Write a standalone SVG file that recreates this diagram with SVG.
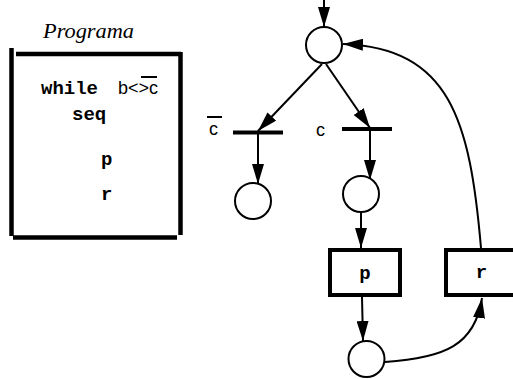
<svg xmlns="http://www.w3.org/2000/svg" width="513" height="379" viewBox="0 0 513 379">
<style>
.frame{stroke:#000;stroke-width:4.5;fill:none}
.place{fill:#fff;stroke:#000;stroke-width:2}
.bar{stroke:#000;stroke-width:4}
.box{fill:#fff;stroke:#000;stroke-width:4}
.arc{fill:none;stroke:#000;stroke-width:2}
.mono{font-family:"Liberation Mono","Courier New",monospace;font-weight:bold;font-size:19px;fill:#000}
.sans{font-family:"Liberation Sans",Arial,sans-serif;font-size:18px;fill:#000}
.title{font-family:"Liberation Serif","Times New Roman",serif;font-style:italic;font-size:20px;fill:#000}
</style>
<defs>
<marker id="ah" markerUnits="userSpaceOnUse" markerWidth="20" markerHeight="12" refX="20" refY="6" orient="auto">
<path d="M0,0 L20,6 L0,12 z" fill="#000"/>
</marker>
</defs>
<rect width="513" height="379" fill="#fff"/>
<g id="programa">
<text class="title" x="43" y="38" textLength="91" lengthAdjust="spacingAndGlyphs">Programa</text>
<line class="frame" x1="11.5" y1="48" x2="11.5" y2="236"/>
<line class="frame" x1="16" y1="54" x2="181" y2="54"/>
<line class="frame" x1="180.5" y1="52" x2="180.5" y2="235"/>
<line class="frame" x1="13" y1="237.5" x2="177" y2="237.5"/>
<text class="mono" x="41" y="94">while</text>
<text class="sans" x="118" y="94">b&lt;&gt;c</text>
<line x1="141" y1="77" x2="157" y2="77" stroke="#000" stroke-width="2"/>
<text class="mono" x="72" y="120">seq</text>
<text class="mono" x="101" y="165">p</text>
<text class="mono" x="101" y="200">r</text>
</g>
<g id="connectors">
<line class="arc" x1="324" y1="0" x2="324" y2="27" marker-end="url(#ah)"/>
<line class="arc" x1="322" y1="64" x2="258" y2="131" marker-end="url(#ah)"/>
<line class="arc" x1="326" y1="64" x2="370" y2="128" marker-end="url(#ah)"/>
<line class="arc" x1="258" y1="134" x2="258" y2="184" marker-end="url(#ah)"/>
<line class="arc" x1="370" y1="131" x2="370" y2="180" marker-end="url(#ah)"/>
<line class="arc" x1="361" y1="212" x2="361" y2="248" marker-end="url(#ah)"/>
<line class="arc" x1="362" y1="297" x2="363" y2="341" marker-end="url(#ah)"/>
<path class="arc" d="M385,362 C445,358 475,345 482,298" marker-end="url(#ah)"/>
<path class="arc" d="M481,248 C470,120 450,48 343,44" marker-end="url(#ah)"/>
</g>
<g id="place-top"><circle class="place" cx="324" cy="45" r="18"/></g>
<g id="trans-notc">
<line class="bar" x1="233" y1="132.5" x2="283" y2="132.5"/>
<text class="sans" x="209" y="135">c</text>
<line x1="207" y1="117" x2="222" y2="117" stroke="#000" stroke-width="2"/>
</g>
<g id="trans-c">
<line class="bar" x1="342" y1="129" x2="392" y2="129"/>
<text class="sans" x="316" y="136">c</text>
</g>
<g id="place-end"><circle class="place" cx="253" cy="201" r="18"/></g>
<g id="place-mid"><circle class="place" cx="361" cy="194" r="18"/></g>
<g id="box-p">
<rect class="box" x="330" y="250" width="70" height="45"/>
<text class="mono" x="365" y="279" text-anchor="middle" font-size="17">p</text>
</g>
<g id="box-r">
<rect class="box" x="446" y="250" width="70" height="45"/>
<text class="mono" x="481.5" y="278" text-anchor="middle" font-size="17">r</text>
</g>
<g id="place-bottom"><circle class="place" cx="366.5" cy="359" r="18"/></g>
</svg>
